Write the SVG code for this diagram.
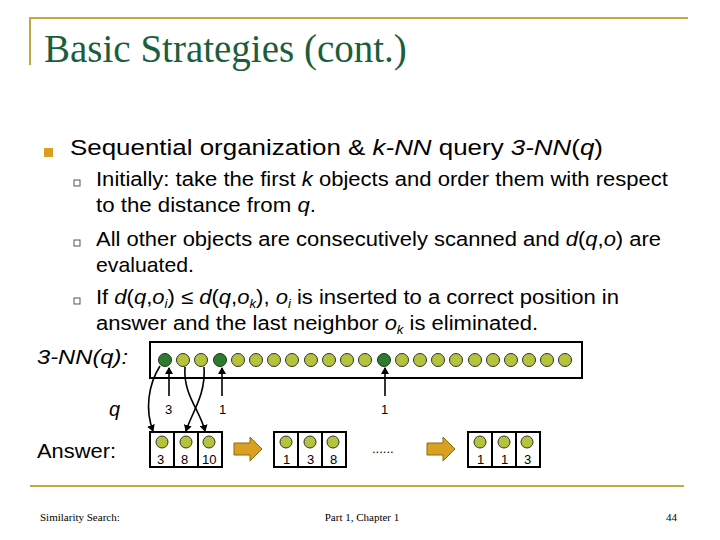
<svg xmlns="http://www.w3.org/2000/svg" width="720" height="540" viewBox="0 0 720 540">
<style>
.t{font-family:"Liberation Sans",Arial,sans-serif;fill:#000}
.s{font-family:"Liberation Serif","Times New Roman",serif;fill:#000}
.c{fill:#b5c33c;stroke:#333;stroke-width:1}
.d{fill:#2f7a30;stroke:#1a3a1a;stroke-width:1}
.b{fill:#fff;stroke:#000;stroke-width:2}
.a{fill:none;stroke:#000;stroke-width:1.6}
.n{font-family:"Liberation Sans",Arial,sans-serif;font-size:13px}
</style>
<defs>
<marker id="m" markerWidth="8" markerHeight="8" refX="6" refY="4" orient="auto" markerUnits="userSpaceOnUse"><path d="M0,0 L7,4 L0,8 Z" fill="#000"/></marker>
<g id="ob"><path d="M0,-6 H16 V-12 L28,0 L16,12 V6 H0 Z" fill="#d9a021" stroke="#8a6a10" stroke-width="1"/></g>
</defs>
<path d="M30,65 V18 H688" fill="none" stroke="#c1a841" stroke-width="2"/>
<text x="44" y="62" class="s" style="font-size:39px;fill:#1a5e3c">Basic Strategies (cont.)</text>
<rect x="44" y="148" width="9" height="9" fill="#d9a021"/>
<text x="70" y="155" class="t" font-size="22" textLength="533" lengthAdjust="spacingAndGlyphs">Sequential organization &amp; <tspan font-style="italic">k-NN</tspan> query <tspan font-style="italic">3-NN</tspan>(<tspan font-style="italic">q</tspan>)</text>
<g fill="none" stroke="#555" stroke-width="1"><rect x="74" y="180" width="6" height="6"/><rect x="74" y="240" width="6" height="6"/><rect x="74" y="298" width="6" height="6"/></g>
<g class="t" font-size="20">
<text x="96" y="186" textLength="572" lengthAdjust="spacingAndGlyphs">Initially: take the first <tspan font-style="italic">k</tspan> objects and order them with respect</text>
<text x="96" y="212" font-size="21" textLength="220" lengthAdjust="spacingAndGlyphs">to the distance from <tspan font-style="italic">q</tspan>.</text>
<text x="96" y="246" textLength="565" lengthAdjust="spacingAndGlyphs">All other objects are consecutively scanned and <tspan font-style="italic">d</tspan>(<tspan font-style="italic">q</tspan>,<tspan font-style="italic">o</tspan>) are</text>
<text x="96" y="272" font-size="21" textLength="98" lengthAdjust="spacingAndGlyphs">evaluated.</text>
<text x="96" y="304" textLength="523" lengthAdjust="spacingAndGlyphs">If <tspan font-style="italic">d</tspan>(<tspan font-style="italic">q</tspan>,<tspan font-style="italic">o<tspan font-size="12" dy="4">i</tspan></tspan><tspan dy="-4">) ≤ </tspan><tspan font-style="italic">d</tspan>(<tspan font-style="italic">q</tspan>,<tspan font-style="italic">o<tspan font-size="12" dy="4">k</tspan></tspan><tspan dy="-4">), </tspan><tspan font-style="italic">o<tspan font-size="12" dy="4">i</tspan></tspan><tspan dy="-4"> is inserted to a correct position in</tspan></text>
<text x="96" y="330" textLength="442" lengthAdjust="spacingAndGlyphs">answer and the last neighbor <tspan font-style="italic">o<tspan font-size="12" dy="4">k</tspan></tspan><tspan dy="-4"> is eliminated.</tspan></text>
<text x="37" y="364" font-style="italic" font-size="21" textLength="91" lengthAdjust="spacingAndGlyphs">3-NN(q):</text>
<text x="109" y="416" font-style="italic">q</text>
<text x="37" y="458" font-size="21" textLength="79" lengthAdjust="spacingAndGlyphs">Answer:</text>
</g>
<g id="strip">
<rect x="150" y="342" width="432" height="36" class="b"/>
<circle cx="165" cy="360" r="6.5" class="d"/><circle cx="183" cy="360" r="6.5" class="c"/><circle cx="201" cy="360" r="6.5" class="c"/><circle cx="220" cy="360" r="6.5" class="d"/>
<circle cx="238" cy="360" r="6.5" class="c"/><circle cx="256" cy="360" r="6.5" class="c"/><circle cx="274" cy="360" r="6.5" class="c"/><circle cx="292" cy="360" r="6.5" class="c"/>
<circle cx="311" cy="360" r="6.5" class="c"/><circle cx="329" cy="360" r="6.5" class="c"/><circle cx="347" cy="360" r="6.5" class="c"/><circle cx="365" cy="360" r="6.5" class="c"/>
<circle cx="384" cy="360" r="6.5" class="d"/><circle cx="402" cy="360" r="6.5" class="c"/><circle cx="420" cy="360" r="6.5" class="c"/><circle cx="438" cy="360" r="6.5" class="c"/>
<circle cx="456" cy="360" r="6.5" class="c"/><circle cx="475" cy="360" r="6.5" class="c"/><circle cx="493" cy="360" r="6.5" class="c"/><circle cx="511" cy="360" r="6.5" class="c"/>
<circle cx="529" cy="360" r="6.5" class="c"/><circle cx="547" cy="360" r="6.5" class="c"/><circle cx="565" cy="360" r="6.5" class="c"/>
</g>
<g id="box1">
<rect x="150" y="432" width="24" height="35" class="b"/><rect x="174" y="432" width="24" height="35" class="b"/><rect x="198" y="432" width="24" height="35" class="b"/>
<circle cx="162" cy="442" r="6" class="c"/><circle cx="186" cy="442" r="6" class="c"/><circle cx="209" cy="442" r="6" class="c"/>
<text x="157" y="464" class="n">3</text><text x="181" y="464" class="n">8</text><text x="202" y="464" class="n">10</text>
</g>
<g id="box2">
<rect x="274" y="432" width="24" height="35" class="b"/><rect x="298" y="432" width="24" height="35" class="b"/><rect x="322" y="432" width="24" height="35" class="b"/>
<circle cx="286" cy="442" r="6" class="c"/><circle cx="310" cy="442" r="6" class="c"/><circle cx="333" cy="442" r="6" class="c"/>
<text x="283" y="464" class="n">1</text><text x="307" y="464" class="n">3</text><text x="330" y="464" class="n">8</text>
</g>
<g id="box3">
<rect x="468" y="432" width="24" height="35" class="b"/><rect x="492" y="432" width="24" height="35" class="b"/><rect x="516" y="432" width="24" height="35" class="b"/>
<circle cx="480" cy="442" r="6" class="c"/><circle cx="504" cy="442" r="6" class="c"/><circle cx="527" cy="442" r="6" class="c"/>
<text x="477" y="464" class="n">1</text><text x="501" y="464" class="n">1</text><text x="524" y="464" class="n">3</text>
</g>
<use href="#ob" x="234" y="449"/><use href="#ob" x="427" y="449"/>
<text x="372" y="453" class="n" font-size="14">......</text>
<g id="connectors" class="a">
<path d="M160,366 C148,385 145,410 153,431" marker-end="url(#m)"/>
<path d="M185,367 C183,395 200,410 205,431" marker-end="url(#m)"/>
<path d="M204,367 C206,395 192,412 186,431" marker-end="url(#m)"/>
<path d="M169,396 V368" marker-end="url(#m)"/>
<path d="M222,396 V368" marker-end="url(#m)"/>
<path d="M385,396 V368" marker-end="url(#m)"/>
</g>
<g class="n" font-size="14"><text x="165" y="414">3</text><text x="219" y="414">1</text><text x="381" y="414">1</text></g>
<line x1="30" y1="486" x2="684" y2="486" stroke="#c1a841" stroke-width="2"/>
<g class="s" font-size="11"><text x="40" y="521">Similarity Search:</text><text x="362" y="521" text-anchor="middle">Part 1, Chapter 1</text><text x="666" y="521">44</text></g>
</svg>
